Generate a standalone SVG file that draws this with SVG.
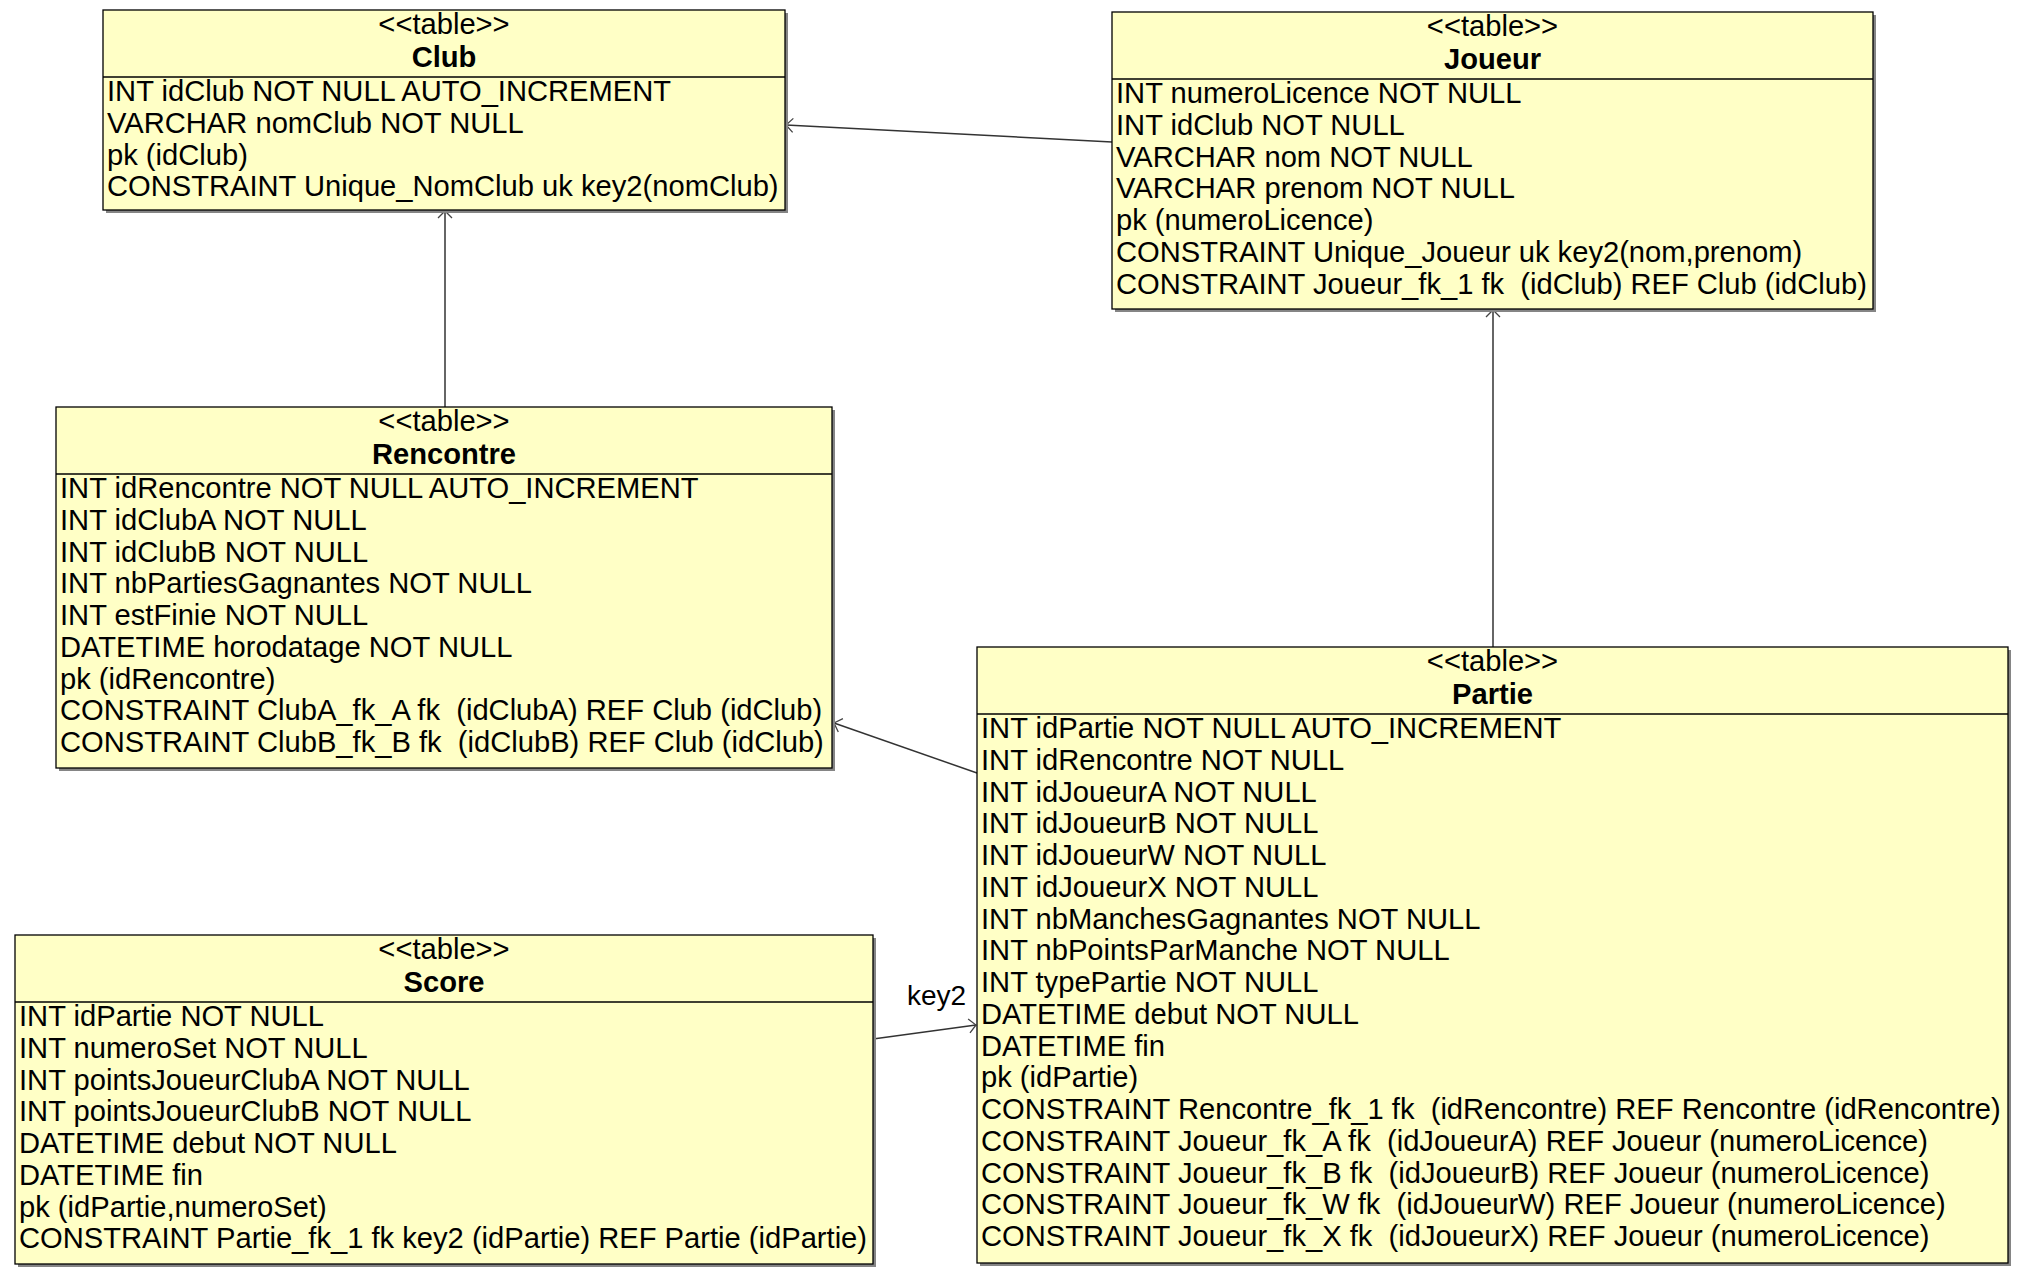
<svg xmlns="http://www.w3.org/2000/svg" width="2023" height="1278" viewBox="0 0 2023 1278">
<style>
.box{fill:#ffffc6;stroke:#000;stroke-width:1.3}
.sh{fill:#858585}
.div{stroke:#000;stroke-width:1.3}
text{font-family:"Liberation Sans",Arial,sans-serif;font-size:29.15px;fill:#000;white-space:pre}
.st{text-anchor:middle}
.nm{text-anchor:middle;font-weight:bold}
.edge{stroke:#333;stroke-width:1.5;fill:none}
</style>
<defs>
<marker id="arr" markerUnits="userSpaceOnUse" markerWidth="12" markerHeight="18" refX="8" refY="8" orient="auto" viewBox="0 0 12 18">
<path d="M1,1 L8,8 L1,15" fill="none" stroke="#444" stroke-width="1.3"/>
</marker>
</defs>
<rect width="2023" height="1278" fill="#fff"/>

<g id="connectors">
<line class="edge" x1="1112" y1="142" x2="786" y2="125" marker-end="url(#arr)"/>
<line class="edge" x1="445" y1="407" x2="445" y2="211" marker-end="url(#arr)"/>
<line class="edge" x1="1493" y1="647" x2="1493" y2="310" marker-end="url(#arr)"/>
<line class="edge" x1="977" y1="773" x2="834" y2="723" marker-end="url(#arr)"/>
<line class="edge" x1="873" y1="1039" x2="976" y2="1025" marker-end="url(#arr)"/>
<text x="907" y="1005" style="font-size:28px">key2</text>
</g>

<g id="Club">
<rect class="sh" x="106" y="13" width="682" height="200"/>
<rect class="box" x="103" y="10" width="682" height="200"/>
<line class="div" x1="103" y1="77" x2="785" y2="77"/>
<text class="st" x="444" y="34">&lt;&lt;table&gt;&gt;</text>
<text class="nm" x="444" y="67">Club</text>
<text x="107" y="101">INT idClub NOT NULL AUTO_INCREMENT</text>
<text x="107" y="132.75">VARCHAR nomClub NOT NULL</text>
<text x="107" y="164.5">pk (idClub)</text>
<text x="107" y="196.25">CONSTRAINT Unique_NomClub uk key2(nomClub)</text>
</g>

<g id="Joueur">
<rect class="sh" x="1115" y="15" width="761" height="297"/>
<rect class="box" x="1112" y="12" width="761" height="297"/>
<line class="div" x1="1112" y1="79" x2="1873" y2="79"/>
<text class="st" x="1492.5" y="36">&lt;&lt;table&gt;&gt;</text>
<text class="nm" x="1492.5" y="69">Joueur</text>
<text x="1116" y="103">INT numeroLicence NOT NULL</text>
<text x="1116" y="134.75">INT idClub NOT NULL</text>
<text x="1116" y="166.5">VARCHAR nom NOT NULL</text>
<text x="1116" y="198.25">VARCHAR prenom NOT NULL</text>
<text x="1116" y="230">pk (numeroLicence)</text>
<text x="1116" y="261.75">CONSTRAINT Unique_Joueur uk key2(nom,prenom)</text>
<text x="1116" y="293.5">CONSTRAINT Joueur_fk_1 fk  (idClub) REF Club (idClub)</text>
</g>

<g id="Rencontre">
<rect class="sh" x="59" y="410" width="776" height="361"/>
<rect class="box" x="56" y="407" width="776" height="361"/>
<line class="div" x1="56" y1="474" x2="832" y2="474"/>
<text class="st" x="444" y="431">&lt;&lt;table&gt;&gt;</text>
<text class="nm" x="444" y="464">Rencontre</text>
<text x="60" y="498">INT idRencontre NOT NULL AUTO_INCREMENT</text>
<text x="60" y="529.75">INT idClubA NOT NULL</text>
<text x="60" y="561.5">INT idClubB NOT NULL</text>
<text x="60" y="593.25">INT nbPartiesGagnantes NOT NULL</text>
<text x="60" y="625">INT estFinie NOT NULL</text>
<text x="60" y="656.75">DATETIME horodatage NOT NULL</text>
<text x="60" y="688.5">pk (idRencontre)</text>
<text x="60" y="720.25">CONSTRAINT ClubA_fk_A fk  (idClubA) REF Club (idClub)</text>
<text x="60" y="752">CONSTRAINT ClubB_fk_B fk  (idClubB) REF Club (idClub)</text>
</g>

<g id="Partie">
<rect class="sh" x="980" y="650" width="1031" height="616"/>
<rect class="box" x="977" y="647" width="1031" height="616"/>
<line class="div" x1="977" y1="714" x2="2008" y2="714"/>
<text class="st" x="1492.5" y="671">&lt;&lt;table&gt;&gt;</text>
<text class="nm" x="1492.5" y="704">Partie</text>
<text x="981" y="738">INT idPartie NOT NULL AUTO_INCREMENT</text>
<text x="981" y="769.75">INT idRencontre NOT NULL</text>
<text x="981" y="801.5">INT idJoueurA NOT NULL</text>
<text x="981" y="833.25">INT idJoueurB NOT NULL</text>
<text x="981" y="865">INT idJoueurW NOT NULL</text>
<text x="981" y="896.75">INT idJoueurX NOT NULL</text>
<text x="981" y="928.5">INT nbManchesGagnantes NOT NULL</text>
<text x="981" y="960.25">INT nbPointsParManche NOT NULL</text>
<text x="981" y="992">INT typePartie NOT NULL</text>
<text x="981" y="1023.75">DATETIME debut NOT NULL</text>
<text x="981" y="1055.5">DATETIME fin</text>
<text x="981" y="1087.25">pk (idPartie)</text>
<text x="981" y="1119">CONSTRAINT Rencontre_fk_1 fk  (idRencontre) REF Rencontre (idRencontre)</text>
<text x="981" y="1150.75">CONSTRAINT Joueur_fk_A fk  (idJoueurA) REF Joueur (numeroLicence)</text>
<text x="981" y="1182.5">CONSTRAINT Joueur_fk_B fk  (idJoueurB) REF Joueur (numeroLicence)</text>
<text x="981" y="1214.25">CONSTRAINT Joueur_fk_W fk  (idJoueurW) REF Joueur (numeroLicence)</text>
<text x="981" y="1246">CONSTRAINT Joueur_fk_X fk  (idJoueurX) REF Joueur (numeroLicence)</text>
</g>

<g id="Score">
<rect class="sh" x="18" y="938" width="858" height="329"/>
<rect class="box" x="15" y="935" width="858" height="329"/>
<line class="div" x1="15" y1="1002" x2="873" y2="1002"/>
<text class="st" x="444" y="959">&lt;&lt;table&gt;&gt;</text>
<text class="nm" x="444" y="992">Score</text>
<text x="19" y="1026">INT idPartie NOT NULL</text>
<text x="19" y="1057.75">INT numeroSet NOT NULL</text>
<text x="19" y="1089.5">INT pointsJoueurClubA NOT NULL</text>
<text x="19" y="1121.25">INT pointsJoueurClubB NOT NULL</text>
<text x="19" y="1153">DATETIME debut NOT NULL</text>
<text x="19" y="1184.75">DATETIME fin</text>
<text x="19" y="1216.5">pk (idPartie,numeroSet)</text>
<text x="19" y="1248.25">CONSTRAINT Partie_fk_1 fk key2 (idPartie) REF Partie (idPartie)</text>
</g>
</svg>
